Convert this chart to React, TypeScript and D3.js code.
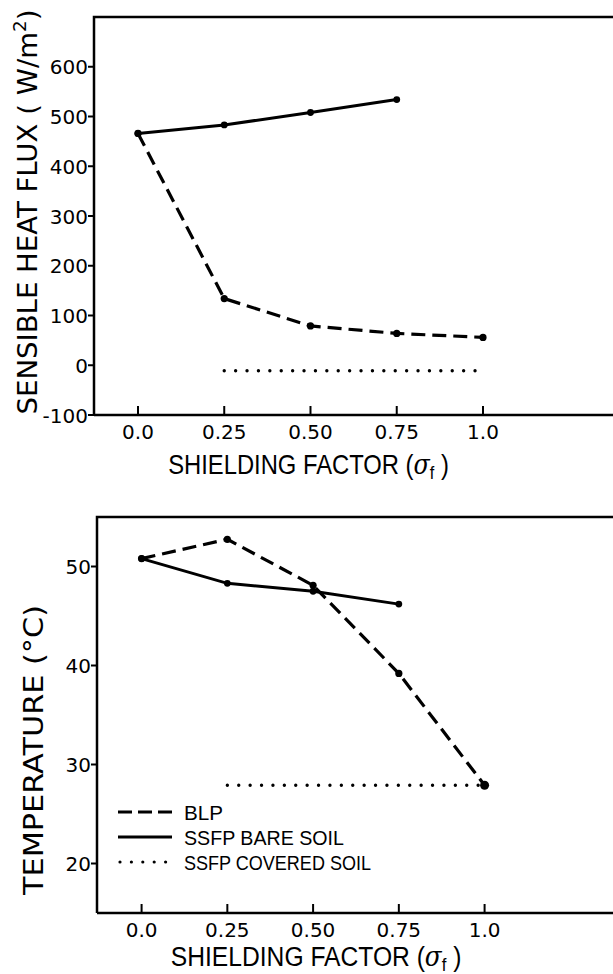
import React from "react";
import * as d3 from "d3";

const SIGMA = [0, 0.25, 0.5, 0.75, 1.0];
const X_TICK_LABELS = ["0.0", "0.25", "0.50", "0.75", "1.0"];

const FLUX_TICKS = [-100, 0, 100, 200, 300, 400, 500, 600];
const FLUX_BLP = [466, 134, 79, 64, 56];
const FLUX_BARE = [466, 483, 508, 534];
const FLUX_COVERED_X = [0.25, 1.0];
const FLUX_COVERED = [-11, -11];

const TEMP_TICKS = [20, 30, 40, 50];
const TEMP_BLP = [50.8, 52.75, 48.1, 39.2, 27.9];
const TEMP_BARE = [50.8, 48.3, 47.5, 46.2];
const TEMP_COVERED_X = [0.25, 1.0];
const TEMP_COVERED = [27.9, 27.9];

const LEGEND = ["BLP", "SSFP BARE SOIL", "SSFP COVERED SOIL"];
const LEGEND_WIDTHS = [39, 160, 187];

const W = 613;
const H = 974;
const FONT = "'DejaVu Sans', sans-serif";
const NARROW = "'Liberation Sans', 'DejaVu Sans', sans-serif";
const DASH = "14 7";
const DOT = "0 11.4";

type Panel = {
  left: number;
  right: number;
  top: number;
  bottom: number;
  xDomain: [number, number];
  yDomain: [number, number];
  yTicks: number[];
  titleGap: number;
  titleScale: number;
  titleShift: number;
};

function Chart({
  p,
  blp,
  bare,
  covX,
  cov,
  bigEndDot,
}: {
  p: Panel;
  blp: number[];
  bare: number[];
  covX: number[];
  cov: number[];
  bigEndDot: boolean;
}) {
  const x = d3.scaleLinear().domain(p.xDomain).range([p.left, p.right]);
  const y = d3.scaleLinear().domain(p.yDomain).range([p.bottom, p.top]);
  const line = d3
    .line<[number, number]>()
    .x((d) => x(d[0]))
    .y((d) => y(d[1]));
  const blpPts: [number, number][] = blp.map((v, i) => [SIGMA[i], v]);
  const barePts: [number, number][] = bare.map((v, i) => [SIGMA[i], v]);
  const covPts: [number, number][] = cov.map((v, i) => [covX[i], v]);
  const titleCx = (x(0) + x(1)) / 2 + p.titleShift;
  return (
    <g>
      {/* frame */}
      <path
        d={`M${p.left},${p.bottom}V${p.top}H${p.right + 20}M${p.left},${p.bottom}H${p.right + 20}`}
        fill="none"
        stroke="#000"
        strokeWidth={2.5}
      />
      {/* y ticks */}
      {p.yTicks.map((t) => (
        <g key={t}>
          <line x1={p.left - 6} x2={p.left} y1={y(t)} y2={y(t)} stroke="#000" strokeWidth={2} />
          <text
            x={p.left - 6}
            y={y(t) + 7.5}
            textAnchor="end"
            fontFamily={FONT}
            fontSize={20}
            fill="#000"
          >
            {t}
          </text>
        </g>
      ))}
      {/* x ticks */}
      {SIGMA.map((s, i) => (
        <g key={s}>
          <line x1={x(s)} x2={x(s)} y1={p.bottom} y2={p.bottom - 9} stroke="#000" strokeWidth={2} />
          <text
            x={x(s)}
            y={p.bottom + 24}
            textAnchor="middle"
            fontFamily={FONT}
            fontSize={20}
            fill="#000"
          >
            {X_TICK_LABELS[i]}
          </text>
        </g>
      ))}
      {/* x title */}
      <g transform={`translate(${titleCx},${p.bottom + p.titleGap}) scale(${p.titleScale},1)`}>
        <text x={0} y={0} textAnchor="middle" fontFamily={NARROW} fontSize={28} fill="#000">
          SHIELDING FACTOR (<tspan fontFamily="'DejaVu Serif', serif" fontStyle="italic">σ</tspan><tspan fontSize={19} dy={5}>f</tspan><tspan dy={-5}> )</tspan>
        </text>
      </g>
      {/* data */}
      <path d={line(covPts) || ""} fill="none" stroke="#000" strokeWidth={3.4} strokeDasharray={DOT} strokeLinecap="round" />
      <path d={line(blpPts) || ""} fill="none" stroke="#000" strokeWidth={3.2} strokeDasharray={DASH} />
      <path d={line(barePts) || ""} fill="none" stroke="#000" strokeWidth={3} />
      {blpPts.map((d, i) => (
        <circle
          key={"b" + i}
          cx={x(d[0])}
          cy={y(d[1])}
          r={bigEndDot && i === blpPts.length - 1 ? 4.5 : 3.6}
          fill="#000"
        />
      ))}
      {barePts.map((d, i) => (
        <circle key={"s" + i} cx={x(d[0])} cy={y(d[1])} r={3.4} fill="#000" />
      ))}
    </g>
  );
}

export default function App() {
  const top: Panel = {
    left: 94,
    right: 94 + 1.53 * 345,
    top: 17,
    bottom: 415,
    xDomain: [-0.1275, 1.4025],
    yDomain: [-100, 700],
    yTicks: FLUX_TICKS,
    titleGap: 59,
    titleScale: 0.85,
    titleShift: -2,
  };
  const bot: Panel = {
    left: 97,
    right: 97 + 1.53 * 343,
    top: 517,
    bottom: 913,
    xDomain: [-0.13, 1.4],
    yDomain: [15, 55],
    yTicks: TEMP_TICKS,
    titleGap: 53,
    titleScale: 0.88,
    titleShift: 3,
  };
  const legX = 118;
  const legY = [812, 837, 862];
  return (
    <svg
      width={W}
      height={H}
      style={{ position: "absolute", left: 0, top: 0, background: "#fff" }}
    >
      <rect x={0} y={0} width={W} height={H} fill="#fff" />
      <Chart p={top} blp={FLUX_BLP} bare={FLUX_BARE} covX={FLUX_COVERED_X} cov={FLUX_COVERED} bigEndDot={false} />
      <Chart p={bot} blp={TEMP_BLP} bare={TEMP_BARE} covX={TEMP_COVERED_X} cov={TEMP_COVERED} bigEndDot={true} />
      {/* y titles */}
      <text
        transform="translate(37,212) rotate(-90)"
        textAnchor="middle"
        fontFamily={FONT}
        fontSize={27}
        fill="#000"
        textLength={405}
        lengthAdjust="spacingAndGlyphs"
      >
        SENSIBLE HEAT FLUX ( W/m<tspan fontSize={18} dy={-11}>2</tspan><tspan dy={11}>)</tspan>
      </text>
      <text
        transform="translate(43,750) rotate(-90)"
        textAnchor="middle"
        fontFamily={FONT}
        fontSize={27}
        fill="#000"
        textLength={290}
        lengthAdjust="spacingAndGlyphs"
      >
        TEMPERATURE  (°C)
      </text>
      {/* legend */}
      <line x1={legX} x2={legX + 54} y1={legY[0]} y2={legY[0]} stroke="#000" strokeWidth={3.2} strokeDasharray="14 6" />
      <line x1={legX} x2={legX + 54} y1={legY[1]} y2={legY[1]} stroke="#000" strokeWidth={3.2} />
      <line x1={legX + 2} x2={legX + 48} y1={legY[2]} y2={legY[2]} stroke="#000" strokeWidth={3.2} strokeDasharray="0 11.4" strokeLinecap="round" />
      {LEGEND.map((t, i) => (
        <text
          key={t}
          x={184}
          y={legY[i] + 8}
          fontFamily={NARROW}
          fontSize={21}
          fill="#000"
          textLength={LEGEND_WIDTHS[i]}
          lengthAdjust="spacingAndGlyphs"
        >
          {t}
        </text>
      ))}
    </svg>
  );
}
